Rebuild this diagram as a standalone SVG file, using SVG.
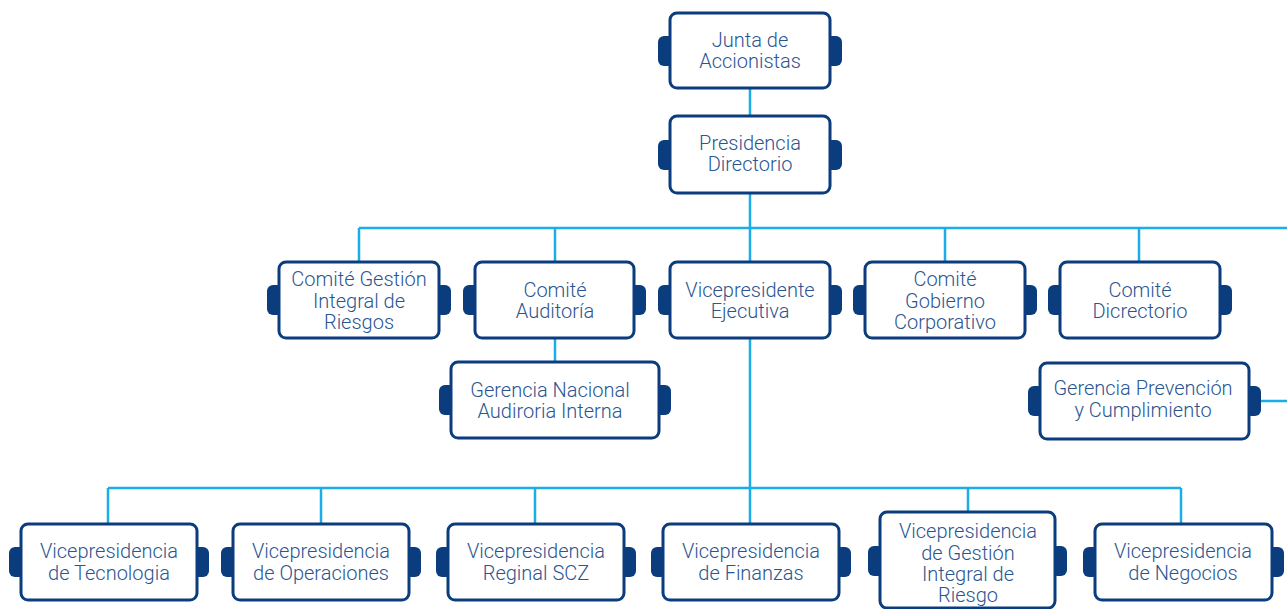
<svg xmlns="http://www.w3.org/2000/svg" width="1287" height="609" viewBox="0 0 1287 609">
<style>
.box{fill:#fff;stroke:#0b3d7e;stroke-width:3}
.tab{fill:#0b3d7e}
.lbl{font-family:Roboto,"Liberation Sans",sans-serif;font-size:20px;font-weight:300;fill:#2a5591;text-anchor:middle}
.con{fill:none;stroke:#19aee8;stroke-width:2.5}
</style>
<rect width="1287" height="609" fill="#fff"/>
<g id="connectors">
<path class="con" d="M750 88V116M750 193V228M359 228H1287M359 228V262M555 228V262M750 228V262M945 228V262M1139 228V262"/>
<path class="con" d="M555 338V362M1261 401H1287"/>
<path class="con" d="M750 338V488M108 488H1181M108 488V523M321 488V523M535 488V523M750 488V523M968 488V512M1181 488V523"/>
</g>
<g id="n-junta">
<rect class="tab" x="658" y="36" width="16" height="30" rx="6"/><rect class="tab" x="826" y="36" width="16" height="30" rx="6"/>
<rect class="box" x="670" y="13" width="160" height="75" rx="7"/>
<text class="lbl" x="750" y="47">Junta de</text><text class="lbl" x="750" y="68">Accionistas</text>
</g>
<g id="n-presidencia">
<rect class="tab" x="658" y="140" width="16" height="30" rx="6"/><rect class="tab" x="826" y="140" width="16" height="30" rx="6"/>
<rect class="box" x="670" y="116" width="160" height="77" rx="7"/>
<text class="lbl" x="750" y="150">Presidencia</text><text class="lbl" x="750" y="171">Directorio</text>
</g>
<g id="n-cgir">
<rect class="tab" x="267" y="285" width="16" height="30" rx="6"/><rect class="tab" x="435" y="285" width="16" height="30" rx="6"/>
<rect class="box" x="279" y="262" width="160" height="76" rx="7"/>
<text class="lbl" x="359" y="286">Comité Gestión</text><text class="lbl" x="359" y="307.5">Integral de</text><text class="lbl" x="359" y="329">Riesgos</text>
</g>
<g id="n-auditoria">
<rect class="tab" x="463" y="285" width="16" height="30" rx="6"/><rect class="tab" x="630" y="285" width="16" height="30" rx="6"/>
<rect class="box" x="475" y="262" width="159" height="76" rx="7"/>
<text class="lbl" x="555" y="297">Comité</text><text class="lbl" x="555" y="318">Auditoría</text>
</g>
<g id="n-vpe">
<rect class="tab" x="658" y="285" width="16" height="30" rx="6"/><rect class="tab" x="826" y="285" width="16" height="30" rx="6"/>
<rect class="box" x="670" y="262" width="160" height="76" rx="7"/>
<text class="lbl" x="750" y="297">Vicepresidente</text><text class="lbl" x="750" y="318">Ejecutiva</text>
</g>
<g id="n-gobierno">
<rect class="tab" x="853" y="285" width="16" height="30" rx="6"/><rect class="tab" x="1021" y="285" width="16" height="30" rx="6"/>
<rect class="box" x="865" y="262" width="160" height="76" rx="7"/>
<text class="lbl" x="945" y="286">Comité</text><text class="lbl" x="945" y="307.5">Gobierno</text><text class="lbl" x="945" y="329">Corporativo</text>
</g>
<g id="n-dicrectorio">
<rect class="tab" x="1048" y="285" width="16" height="30" rx="6"/><rect class="tab" x="1216" y="285" width="16" height="30" rx="6"/>
<rect class="box" x="1060" y="262" width="160" height="76" rx="7"/>
<text class="lbl" x="1140" y="297">Comité</text><text class="lbl" x="1140" y="318">Dicrectorio</text>
</g>
<g id="n-gnai">
<rect class="tab" x="439" y="385" width="16" height="30" rx="6"/><rect class="tab" x="655" y="385" width="16" height="30" rx="6"/>
<rect class="box" x="451" y="362" width="208" height="76" rx="7"/>
<text class="lbl" x="550" y="397">Gerencia Nacional</text><text class="lbl" x="550" y="418">Audiroria Interna</text>
</g>
<g id="n-gpc">
<rect class="tab" x="1028" y="386" width="16" height="30" rx="6"/><rect class="tab" x="1245" y="386" width="16" height="30" rx="6"/>
<rect class="box" x="1040" y="363" width="209" height="76" rx="7"/>
<text class="lbl" x="1143" y="395">Gerencia Prevención</text><text class="lbl" x="1143" y="417">y Cumplimiento</text>
</g>
<g id="n-tec">
<rect class="tab" x="9" y="547" width="16" height="30" rx="6"/><rect class="tab" x="193" y="547" width="16" height="30" rx="6"/>
<rect class="box" x="21" y="524" width="176" height="76" rx="7"/>
<text class="lbl" x="109" y="558">Vicepresidencia</text><text class="lbl" x="109" y="580">de Tecnologia</text>
</g>
<g id="n-ope">
<rect class="tab" x="221" y="547" width="16" height="30" rx="6"/><rect class="tab" x="405" y="547" width="16" height="30" rx="6"/>
<rect class="box" x="233" y="524" width="176" height="76" rx="7"/>
<text class="lbl" x="321" y="558">Vicepresidencia</text><text class="lbl" x="321" y="580">de Operaciones</text>
</g>
<g id="n-scz">
<rect class="tab" x="436" y="547" width="16" height="30" rx="6"/><rect class="tab" x="620" y="547" width="16" height="30" rx="6"/>
<rect class="box" x="448" y="524" width="176" height="76" rx="7"/>
<text class="lbl" x="536" y="558">Vicepresidencia</text><text class="lbl" x="536" y="580">Reginal SCZ</text>
</g>
<g id="n-fin">
<rect class="tab" x="651" y="547" width="16" height="30" rx="6"/><rect class="tab" x="835" y="547" width="16" height="30" rx="6"/>
<rect class="box" x="663" y="524" width="176" height="76" rx="7"/>
<text class="lbl" x="751" y="558">Vicepresidencia</text><text class="lbl" x="751" y="580">de Finanzas</text>
</g>
<g id="n-gir">
<rect class="tab" x="868" y="546" width="16" height="30" rx="6"/><rect class="tab" x="1051" y="546" width="16" height="30" rx="6"/>
<rect class="box" x="880" y="512" width="175" height="96" rx="7"/>
<text class="lbl" x="968" y="538">Vicepresidencia</text><text class="lbl" x="968" y="559.5">de Gestión</text><text class="lbl" x="968" y="581">Integral de</text><text class="lbl" x="968" y="602">Riesgo</text>
</g>
<g id="n-neg">
<rect class="tab" x="1083" y="547" width="16" height="30" rx="6"/><rect class="tab" x="1268" y="547" width="16" height="30" rx="6"/>
<rect class="box" x="1095" y="524" width="177" height="76" rx="7"/>
<text class="lbl" x="1183" y="558">Vicepresidencia</text><text class="lbl" x="1183" y="580">de Negocios</text>
</g>
</svg>
